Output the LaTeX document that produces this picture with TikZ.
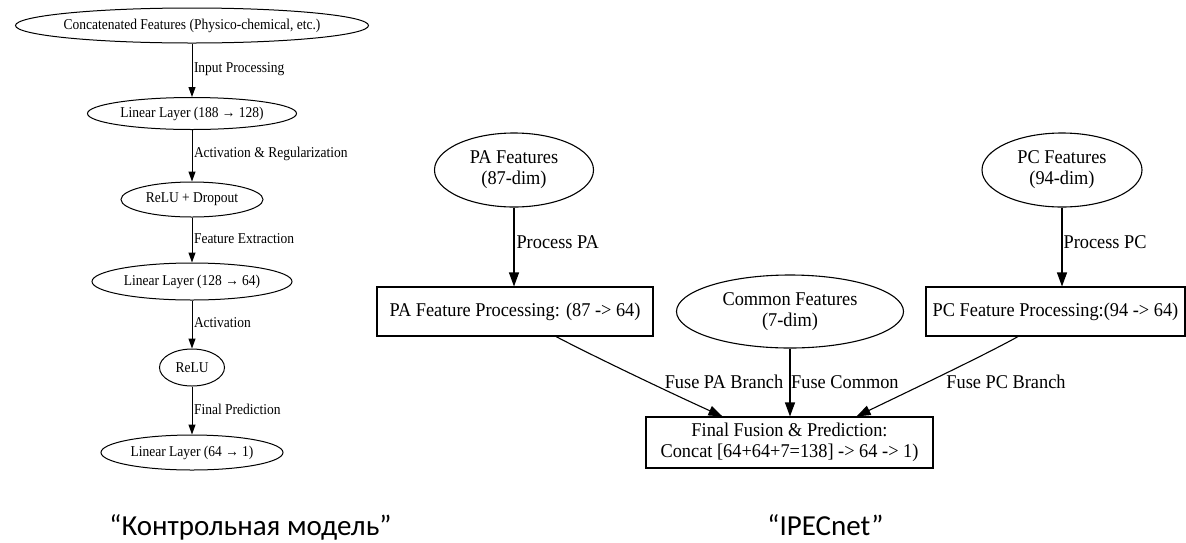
\documentclass[tikz,border=0pt]{standalone}
\usepackage{fontspec}
\setmainfont{Liberation Serif}
\newfontfamily\lfont[FakeStretch=0.9]{Liberation Serif}
\newfontfamily\rfont[FakeStretch=0.94]{Liberation Serif}
\newfontfamily\capfont{Carlito}
\usetikzlibrary{shapes.geometric,arrows.meta}
\newcommand{\zw}[1]{\makebox[0pt]{#1}}
\begin{document}
\begin{tikzpicture}[x=1pt,y=-1pt,
  lnode/.style={ellipse, draw, line width=1pt, inner sep=0pt, font=\lfont\fontsize{15}{17}\selectfont},
  llab/.style={anchor=west, inner sep=0pt, xshift=1.5pt, font=\lfont\fontsize{15}{17}\selectfont},
  larr/.style={-{Triangle[length=10pt,width=7pt]}, line width=1pt},
  rell/.style={ellipse, draw, line width=1.1pt, inner sep=0pt, font=\rfont\fontsize{19.5}{21}\selectfont},
  rbox/.style={rectangle, draw, line width=1.1pt, inner sep=0pt, font=\rfont\fontsize{19.5}{21}\selectfont, align=center},
  rlab/.style={inner sep=0pt, font=\rfont\fontsize{19.5}{21}\selectfont},
  rarr/.style={-{Triangle[length=14pt,width=10pt]}, line width=1.1pt},
  captxt/.style={anchor=base, inner sep=0pt, font=\capfont\fontsize{29}{33}\selectfont}
]
\useasboundingbox[fill=white] (0,0) rectangle (1186,542);

% left graph
\node[lnode, minimum width=353pt, minimum height=35pt] (concat) at (192,25.5) {\zw{Concatenated Features (Physico-chemical, etc.)}};
\node[lnode, minimum width=209pt, minimum height=32pt] (lin1) at (192,113.5) {\zw{Linear Layer (188 → 128)}};
\node[lnode, minimum width=142pt, minimum height=35pt] (relud) at (192,199.5) {\zw{ReLU + Dropout}};
\node[lnode, minimum width=200pt, minimum height=37pt] (lin2) at (192,281.5) {\zw{Linear Layer (128 → 64)}};
\node[lnode, minimum width=65pt, minimum height=37pt] (relu) at (192,367.5) {\zw{ReLU}};
\node[lnode, minimum width=182pt, minimum height=35pt] (lin3) at (192,452.5) {\zw{Linear Layer (64 → 1)}};

\draw[larr] (concat) -- node[llab, yshift=1.5pt]{Input Processing} (lin1);
\draw[larr] (lin1) -- node[llab, yshift=1.5pt]{Activation \& Regularization} (relud);
\draw[larr] (relud) -- node[llab, yshift=1.5pt]{Feature Extraction} (lin2);
\draw[larr] (lin2) -- node[llab, yshift=1.5pt]{Activation} (relu);
\draw[larr] (relu) -- node[llab, yshift=1.5pt]{Final Prediction} (lin3);

% right graph
\node[rell, minimum width=159pt, minimum height=74pt] (pa) at (514,170) {\zw{\begin{tabular}{@{}c@{}}PA Features\\(87-dim)\end{tabular}}};
\node[rell, minimum width=160pt, minimum height=74pt] (pc) at (1062,170) {\zw{\begin{tabular}{@{}c@{}}PC Features\\(94-dim)\end{tabular}}};
\node[rell, minimum width=227pt, minimum height=73pt] (common) at (790,311.5) {\zw{\begin{tabular}{@{}c@{}}Common Features\\(7-dim)\end{tabular}}};
\node[rbox, minimum width=276pt, minimum height=49pt] (pabox) at (515,311.5) {PA Feature Processing: (87 -> 64)};
\node[rbox, minimum width=259pt, minimum height=49pt] (pcbox) at (1055.5,311.5) {PC Feature Processing:(94 -> 64)};
\node[rbox, minimum width=287pt, minimum height=51pt] (final) at (789.5,442.5) {Final Fusion \& Prediction:\\Concat [64+64+7=138] -> 64 -> 1)};

\draw[rarr] (pa) -- node[rlab, anchor=west, xshift=2pt, yshift=5pt]{Process PA} (pa |- pabox.north);
\draw[rarr] (pc) -- node[rlab, anchor=west, xshift=1pt, yshift=5pt]{Process PC} (pc |- pcbox.north);
\draw[rarr] (common) -- (common |- final.north);
\draw[rarr] ([xshift=41pt]pabox.south) .. controls (595,357) and (675,395) .. ([xshift=-67pt]final.north);
\draw[rarr] ([xshift=-37.5pt]pcbox.south) .. controls (985,355) and (905,393) .. ([xshift=67pt]final.north);

\node[rlab] (lpa) at (724,382) {Fuse PA Branch};
\node[rlab, anchor=west] (lcom) at (791,382) {Fuse Common};
\node[rlab] (lpc) at (1006,382) {Fuse PC Branch};

% captions
\node[captxt] (capL) at (250.5,535) {“Контрольная модель”};
\node[captxt] (capR) at (825.5,535) {“IPECnet”};
\end{tikzpicture}
\end{document}
